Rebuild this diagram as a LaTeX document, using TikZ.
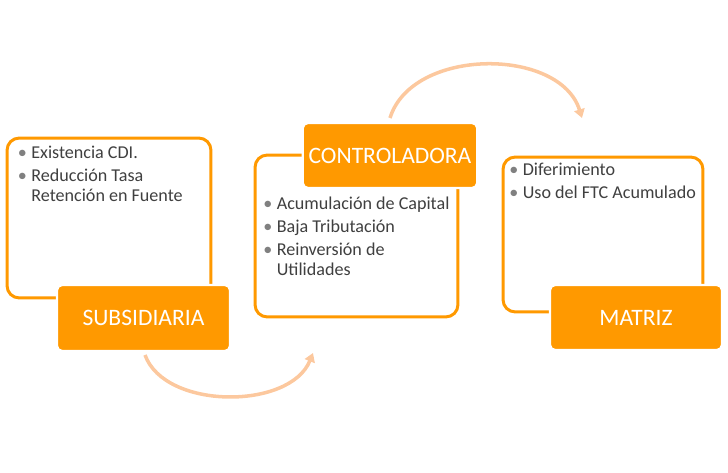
\documentclass[tikz,border=0pt]{standalone}
\usepackage{fontspec}
\setmainfont{Carlito}
\usetikzlibrary{arrows.meta, positioning}
\usepackage{xcolor}
\definecolor{boxorange}{RGB}{255, 153, 0}
\definecolor{arcpeach}{RGB}{252, 200, 158}
\definecolor{textgray}{RGB}{64, 64, 64}
\newcommand{\blist}[1]{\begin{tabular}[t]{@{}p{0.27cm}@{}l@{}}#1\end{tabular}}
\newcommand{\bl}{\textcolor{gray}{\textbullet}}

\begin{document}
\begin{tikzpicture}[
  x=0.02cm, y=-0.02cm,
  frame/.style={draw=boxorange, line width=1.7pt, rounded corners=7pt, fill=white},
  title/.style={fill=boxorange, draw=white, line width=1.2pt, rounded corners=3pt,
                text=white, font=\fontsize{13.4}{15}\selectfont},
  list/.style={anchor=base west, inner sep=0pt, text=textgray,
               font=\fontsize{10.3}{11}\selectfont},
  flow/.style={draw=arcpeach, line width=2pt, -{Triangle[length=5pt, width=6pt]}}
]
\useasboundingbox (0,0) rectangle (728,473);

% Outline boxes
\node[frame, minimum width=4.08cm, minimum height=3.2cm] (subframe) at (109,218) {};
\node[frame, minimum width=4.06cm, minimum height=3.24cm] (ctlframe) at (356.5,236) {};
\node[frame, minimum width=4.0cm, minimum height=3.1cm] (matframe) at (603,234.5) {};

% Title boxes on top of the outlines
\node[title, minimum width=3.46cm, minimum height=1.32cm] (sub) at (143.5,318) {SUBSIDIARIA};
\node[title, minimum width=3.48cm, minimum height=1.3cm] (ctl) at (390,155.5) {CONTROLADORA};
\node[title, minimum width=3.44cm, minimum height=1.3cm] (mat) at (636,317.5) {MATRIZ};

% Bullet lists
\node[list] (subitems) at (17.5,159)
  {\blist{\bl & Existencia CDI.\\[2pt] \bl & Reducción Tasa\\ & Retención en Fuente}};
\node[list] (ctlitems) at (263,210)
  {\blist{\bl & Acumulación de Capital\\[2pt] \bl & Baja Tributación\\[2pt]
          \bl & Reinversión de\\ & Utilidades}};
\node[list] (matitems) at (509,176)
  {\blist{\bl & Diferimiento\\[2pt] \bl & Uso del FTC Acumulado}};

% Curved arrows between the stages
\coordinate (sub-out) at (145,355);
\coordinate (ctl-in) at (313,353);
\coordinate (ctl-out) at (390,118);
\coordinate (mat-in) at (582,118);
\draw[flow] (sub-out) .. controls (165,410) and (290,410) .. (ctl-in);
\draw[flow] (ctl-out) .. controls (412,47) and (560,47) .. (mat-in);

\end{tikzpicture}
\end{document}
